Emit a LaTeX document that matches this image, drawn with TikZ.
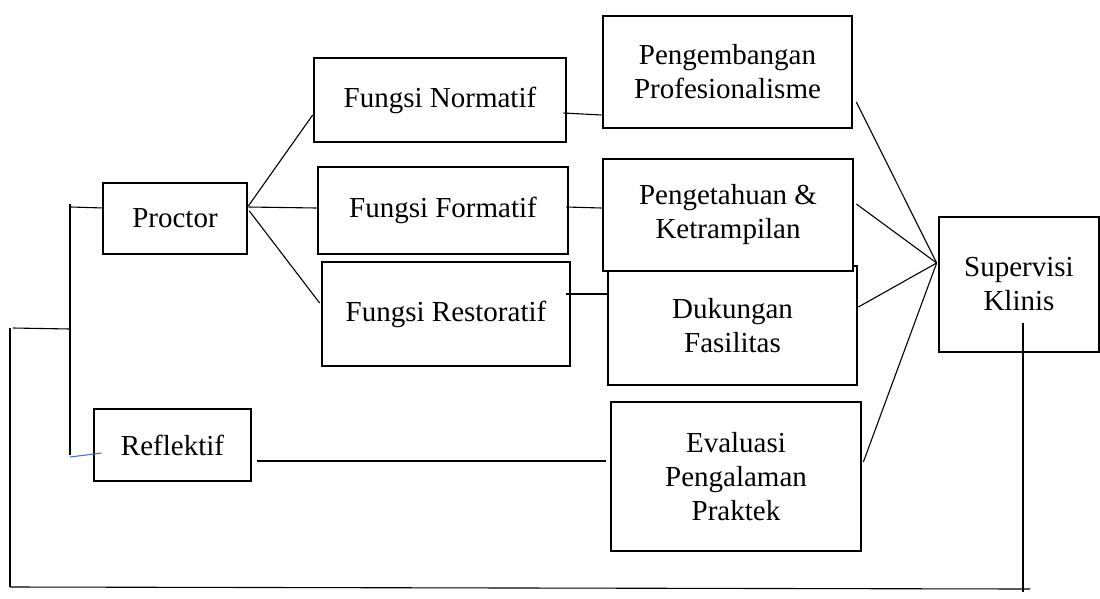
\documentclass[tikz,border=0pt]{standalone}
\usepackage{fontspec}
\setmainfont{Liberation Serif}
\usepackage{tikz}
\usetikzlibrary{calc}
\definecolor{tickblue}{RGB}{68,114,196}
\tikzset{
  kotak/.style={draw, line width=2.7pt, fill=white, inner sep=0pt, align=center,
    font=\fontsize{29}{34}\selectfont},
  garis/.style={line width=1.1pt}
}

\begin{document}
\begin{tikzpicture}[x=1pt,y=-1pt]
        \useasboundingbox (0,0) rectangle (1100,598);
        % kotak-kotak
        \node[kotak, minimum width=249, minimum height=112] (pengembangan) at (727.5,72) {Pengembangan\\Profesionalisme};
        \node[kotak, minimum width=252, minimum height=84] (normatif) at (440,100) {Fungsi Normatif};
        \node[kotak, minimum width=250, minimum height=87] (formatif) at (443,210.5) {Fungsi Formatif};
        \node[kotak, minimum width=248, minimum height=104] (restoratif) at (446,314) {Fungsi Restoratif};
        \node[kotak, minimum width=144, minimum height=71] (proctor) at (175,218.5) {Proctor};
        \node[kotak, minimum width=157, minimum height=72] (reflektif) at (172.5,445) {Reflektif};
        \node[kotak, minimum width=249, minimum height=119] (dukungan) at (732.5,325.5) {Dukungan\\Fasilitas};
        \node[kotak, minimum width=250, minimum height=112] (pengetahuan) at (728,215) {Pengetahuan \&\\Ketrampilan};
        \node[kotak, minimum width=250, minimum height=149] (evaluasi) at (736,476.5) {Evaluasi\\Pengalaman\\Praktek};
        \node[kotak, minimum width=160, minimum height=135] (supervisi) at (1019,284.5) {Supervisi\\Klinis};

        \coordinate (hub) at ([xshift=-1pt,yshift=21.5pt]supervisi.west);
        \coordinate (jtop) at (70,204);
        \coordinate (jmid) at (70,329);
        \coordinate (jbot) at (70,455);
        \coordinate (kiri) at (10,328);
        \coordinate (kiribawah) at (10,587);
        \coordinate (kananbawah) at (1030,589);
        \coordinate (ujung) at (1023,592);

        % proctor ke fungsi
        \draw[garis] ([yshift=12.5pt]proctor.east) -- ([yshift=-15pt]normatif.west);
        \draw[garis] ([yshift=11.5pt]proctor.east) -- ([yshift=2.5pt]formatif.west);
        \draw[garis] ([xshift=1pt,yshift=7.5pt]proctor.east) -- ([xshift=-1pt,yshift=11pt]restoratif.west);

        % fungsi ke hasil
        \draw[garis] ([xshift=-4pt,yshift=-13pt]normatif.east) -- ([yshift=-43pt]pengembangan.west);
        \draw[garis] ([xshift=-3pt,yshift=3.5pt]formatif.east) -- ([yshift=7pt]pengetahuan.west);
        \draw[garis] ([xshift=-5pt,yshift=20pt]restoratif.east) -- ([yshift=31.5pt]dukungan.west);
        \draw[garis] ([xshift=5pt,yshift=-16pt]reflektif.east) -- ([xshift=-4pt,yshift=15.5pt]evaluasi.west);

        % hasil ke supervisi
        \draw[garis] ([xshift=3pt,yshift=-30pt]pengembangan.east) -- (hub);
        \draw[garis] ([xshift=2pt,yshift=11pt]pengetahuan.east) -- (hub);
        \draw[garis] ([yshift=18.5pt]dukungan.east) -- (hub);
        \draw[garis] ([xshift=1pt,yshift=14.5pt]evaluasi.east) -- (hub);

        % umpan balik
        \draw[garis] ([xshift=4pt,yshift=-38.5pt]supervisi.center) -- (ujung);
        \draw[garis] (kiribawah) -- (kananbawah);
        \draw[garis] (kiribawah) -- (kiri);
        \draw[garis] ([xshift=3pt]kiri) -- (jmid);
        \draw[garis] (jtop) -- (jbot);
        \draw[garis] ([xshift=1pt,yshift=-3pt]jtop) -- ([xshift=2pt,yshift=10.5pt]proctor.west);
        \draw[garis, tickblue] ([yshift=-2pt]jbot) -- ([xshift=9pt,yshift=-8pt]reflektif.west);
\end{tikzpicture}
\end{document}
